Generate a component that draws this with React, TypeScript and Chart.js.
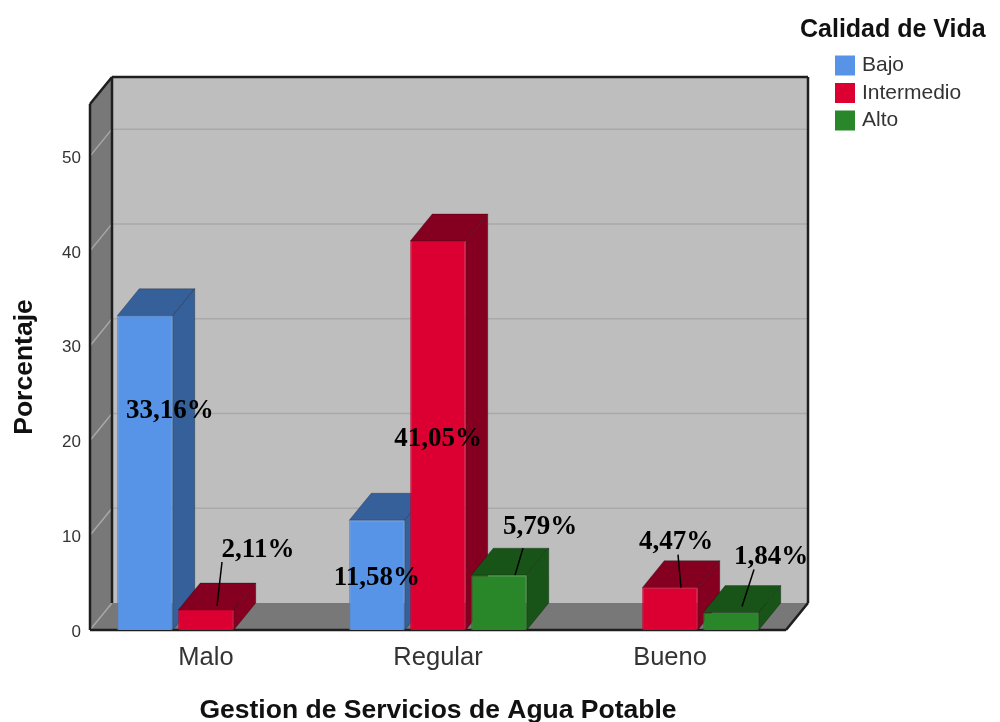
import React, { useEffect, useRef } from "react";
import { Chart, registerables } from "chart.js";

Chart.register(...registerables);

const categories = ["Malo", "Regular", "Bueno"];
const bajoValues = [33.16, 11.58, null];
const intermedioValues = [2.11, 41.05, 4.47];
const altoValues = [null, 5.79, 1.84];

const LEGEND_TITLE = "Calidad de Vida";
const X_TITLE = "Gestion de Servicios de Agua Potable";
const Y_TITLE = "Porcentaje";

const FONT = "'Liberation Sans', Arial, sans-serif";
const LABEL_FONT = "bold 27px 'Liberation Serif', 'Times New Roman', serif";
const LABEL_SHIFT_Y = 3;
const DEPTH_X = 22;
const DEPTH_Y = 27;

// label placement relative to the top-centre of each bar: [dx, dy, leader x1, y1, x2, y2]
const labelPlacement: Record<string, (number[] | null)[]> = {
  Bajo: [[25, 92], [0, 55], null],
  Intermedio: [[52, -63, 16, -48, 11, -4], [0, 195], [6, -49, 8, -33, 11, 0]],
  Alto: [null, [41, -51, 24, -27, 16, 0], [40, -59, 23, -43, 11, -6]],
};

const sideColors = ["#35609A", "#850020", "#185417"];

function poly(ctx: CanvasRenderingContext2D, pts: number[][], fill: string | null, stroke?: string, lw = 1) {
  ctx.beginPath();
  pts.forEach((p, i) => (i ? ctx.lineTo(p[0], p[1]) : ctx.moveTo(p[0], p[1])));
  ctx.closePath();
  if (fill) {
    ctx.fillStyle = fill;
    ctx.fill();
  }
  if (stroke) {
    ctx.strokeStyle = stroke;
    ctx.lineWidth = lw;
    ctx.stroke();
  }
}

function line(ctx: CanvasRenderingContext2D, x1: number, y1: number, x2: number, y2: number, color: string, lw: number) {
  ctx.beginPath();
  ctx.moveTo(x1, y1);
  ctx.lineTo(x2, y2);
  ctx.strokeStyle = color;
  ctx.lineWidth = lw;
  ctx.stroke();
}

const scene3d = {
  id: "scene3d",
  afterLayout(chart: any) {
    const t = chart.titleBlock;
    if (t) {
      t.left = 800;
      t.right = 1000;
      t.width = 200;
      t.top = 17.5;
      t.bottom = 42.5;
    }
    const l = chart.legend;
    if (l) {
      l.left = 832;
      l.right = 1000;
      l.width = 168;
      l.top = 48.5;
      l.bottom = 140;
      l.height = 91.5;
    }
  },
  beforeDatasetsDraw(chart: any) {
    const ctx: CanvasRenderingContext2D = chart.ctx;
    const { left, right, top, bottom } = chart.chartArea;
    const yScale = chart.scales.y;
    const dx = DEPTH_X;
    const dy = DEPTH_Y;
    ctx.save();
    // back wall, left wall, floor
    poly(ctx, [[left + dx, top - dy], [right + dx, top - dy], [right + dx, bottom - dy], [left + dx, bottom - dy]], "#BEBEBE");
    poly(ctx, [[left, top], [left + dx, top - dy], [left + dx, bottom - dy], [left, bottom]], "#787878");
    poly(ctx, [[left, bottom], [right, bottom], [right + dx, bottom - dy], [left + dx, bottom - dy]], "#787878");
    // grid lines
    yScale.ticks.forEach((tick: any) => {
      const y = yScale.getPixelForValue(tick.value);
      if (tick.value === 0) {
        line(ctx, left, y, left + dx, y - dy, "#A8A8A8", 1.5);
        return;
      }
      line(ctx, left + dx, y - dy, right + dx, y - dy, "#A9A9A9", 1.5);
      line(ctx, left, y, left + dx, y - dy, "#A8A8A8", 1.5);
    });
    // frame
    const edge = "#1E1E1E";
    line(ctx, left + dx, top - dy, right + dx, top - dy, edge, 2.5);
    line(ctx, left + dx, top - dy, left + dx, bottom - dy, edge, 2.5);
    line(ctx, right + dx, top - dy, right + dx, bottom - dy, edge, 2.5);
    line(ctx, left, top, left, bottom, edge, 2.5);
    line(ctx, left, top, left + dx, top - dy, edge, 2.5);
    line(ctx, left, bottom, right, bottom, edge, 2.5);
    line(ctx, right, bottom, right + dx, bottom - dy, edge, 2.5);

    // bars, left to right, so that each covers its left neighbour's side face
    chart.data.datasets.forEach((ds: any, di: number) => {
      const meta = chart.getDatasetMeta(di);
      const side = sideColors[di];
      meta.data.forEach((bar: any, i: number) => {
        if (ds.data[i] == null) return;
        const l = bar.x - bar.width / 2;
        const r = bar.x + bar.width / 2;
        const t = bar.y;
        const b = bar.base;
        const outline = "rgba(0,0,0,0.25)";
        poly(ctx, [[l, t], [r, t], [r + dx, t - dy], [l + dx, t - dy]], side, outline);
        poly(ctx, [[r, t], [r + dx, t - dy], [r + dx, b - dy], [r, b]], side, outline);
      });
      meta.controller.draw();
    });
    ctx.restore();
  },
  beforeDatasetDraw() {
    return false;
  },
  afterDatasetsDraw(chart: any) {
    const ctx: CanvasRenderingContext2D = chart.ctx;
    ctx.save();
    ctx.textAlign = "center";
    ctx.textBaseline = "middle";
    ctx.font = LABEL_FONT;
    chart.data.datasets.forEach((ds: any, di: number) => {
      const meta = chart.getDatasetMeta(di);
      const placement = labelPlacement[ds.label];
      meta.data.forEach((bar: any, i: number) => {
        const value = ds.data[i];
        const p = placement[i];
        if (value == null || !p) return;
        if (p.length > 2) {
          line(ctx, bar.x + p[2], bar.y + p[3], bar.x + p[4], bar.y + p[5], "#000000", 1.5);
        }
        ctx.fillStyle = "#000000";
        ctx.fillText(value.toFixed(2).replace(".", ",") + "%", bar.x + p[0], bar.y + p[1] + LABEL_SHIFT_Y);
      });
    });
    ctx.restore();
  },
};

export default function App() {
  const ref = useRef<HTMLCanvasElement>(null);

  useEffect(() => {
    if (!ref.current) return;
    const barStyle = { categoryPercentage: 0.789, barPercentage: 0.91, borderWidth: 1 };
    const chart = new Chart(ref.current, {
      type: "bar",
      data: {
        labels: categories,
        datasets: [
          { label: "Bajo", data: bajoValues, backgroundColor: "#5794E8", borderColor: "#4A80C8", ...barStyle },
          { label: "Intermedio", data: intermedioValues, backgroundColor: "#DC0032", borderColor: "#C4002C", ...barStyle },
          { label: "Alto", data: altoValues, backgroundColor: "#29872A", borderColor: "#237524", ...barStyle },
        ],
      } as any,
      options: {
        responsive: false,
        animation: false,
        layout: { autoPadding: false, padding: { left: 0, right: 214, top: 79, bottom: 0 } },
        scales: {
          x: {
            grid: { display: false, drawTicks: false },
            border: { display: false },
            afterFit: (s: any) => {
              s.height = 92;
            },
            ticks: { color: "#333333", font: { family: FONT, size: 25.5 }, padding: 13, maxRotation: 0 },
            title: {
              display: true,
              text: X_TITLE,
              color: "#111111",
              font: { family: FONT, size: 26.5, weight: "bold", lineHeight: 0.83 },
              padding: { top: 0, bottom: 0 },
            },
          },
          y: {
            min: 0,
            max: 55.5,
            grid: { display: false, drawTicks: false },
            border: { display: false },
            afterFit: (s: any) => {
              s.width = 90;
            },
            ticks: { stepSize: 10, includeBounds: false, labelOffset: 2, color: "#333333", font: { family: FONT, size: 17 }, padding: 9 },
            title: {
              display: true,
              text: Y_TITLE,
              color: "#111111",
              font: { family: FONT, size: 26.5, weight: "bold", lineHeight: 1 },
              padding: { top: 11, bottom: 0 },
            },
          },
        },
        plugins: {
          tooltip: { enabled: false },
          title: {
            display: true,
            text: LEGEND_TITLE,
            align: "start",
            color: "#111111",
            font: { family: FONT, size: 25, weight: "bold", lineHeight: 1 },
            padding: 0,
          },
          legend: {
            display: true,
            position: "chartArea",
            align: "start",
            labels: {
              boxWidth: 13,
              boxHeight: 13,
              padding: 6.5,
              color: "#333333",
              font: { family: FONT, size: 21 },
              generateLabels: (chart: any) =>
                Chart.defaults.plugins.legend.labels.generateLabels(chart).map((item: any) => ({
                  ...item,
                  strokeStyle: item.fillStyle,
                  lineWidth: 7,
                })),
            },
          },
        },
      } as any,
      plugins: [scene3d] as any,
    });
    return () => chart.destroy();
  }, []);

  return (
    <div style={{ position: "absolute", left: 0, top: 0, width: 1000, height: 722, background: "#FFFFFF" }}>
      <canvas ref={ref} width={1000} height={722} style={{ display: "block" }} />
    </div>
  );
}
